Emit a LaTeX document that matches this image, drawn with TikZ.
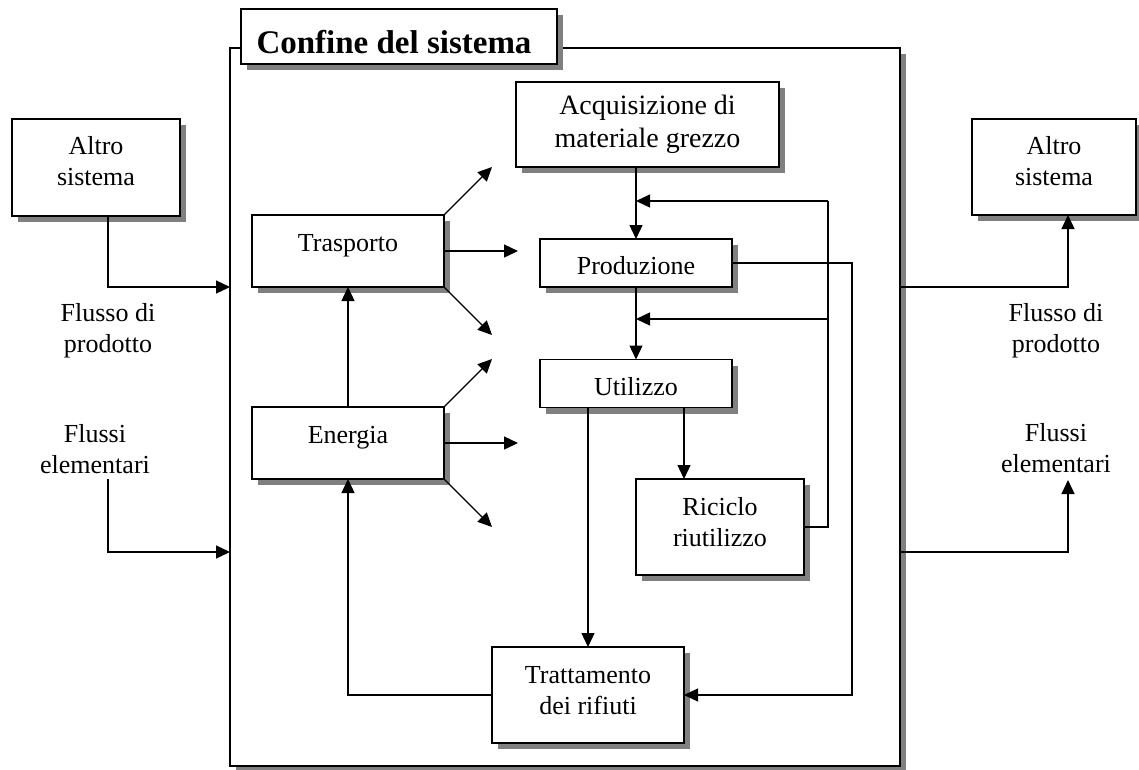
\documentclass[tikz,border=0pt]{standalone}
\usepackage{fontspec}
\setmainfont{Liberation Serif}
\usetikzlibrary{arrows.meta,calc}
\definecolor{shadowgray}{RGB}{128,128,128}
\begin{document}
\begin{tikzpicture}[x=1pt,y=-1pt,
  font=\fontsize{26}{31}\selectfont,
  box/.style={draw, line width=1.5pt, fill=white, outer sep=0pt, inner sep=0pt, align=center,
    preaction={fill=shadowgray, draw=none, transform canvas={shift={(6pt,-6pt)}}}},
  tup/.style={text height=0pt, text depth=#1},
  tdown/.style={text height=#1, text depth=0pt},
  arr/.style={-{Triangle[length=14pt,width=13pt]}, line width=1.3pt},
  ln/.style={line width=1.3pt},
  lbl/.style={align=center, anchor=base, inner sep=0pt}]
\useasboundingbox (0,0) rectangle (1139,769);

% system boundary
\node[box, line width=2pt, minimum width=670pt, minimum height=718pt] (sys) at (565,407) {};
\node[box, minimum width=316pt, minimum height=55pt, tdown=33pt,
      font=\fontsize{33}{38}\selectfont\bfseries] (title) at (399,36.5) {\hspace*{-10pt}Confine del sistema};

% outer boxes
\node[box, minimum width=168pt, minimum height=97pt, tdown=35pt] (alt1) at (96,167.5) {Altro\\sistema};
\node[box, minimum width=164pt, minimum height=96pt, tdown=36pt] (alt2) at (1054,167) {Altro\\sistema};

% inner boxes
\node[box, minimum width=263pt, minimum height=85pt, font=\fontsize{28}{33}\selectfont] (acq) at (647.5,124.5) {Acquisizione di\\materiale grezzo};
\node[box, minimum width=192pt, minimum height=72pt, tup=0pt] (tra) at (348,251) {Trasporto};
\node[box, minimum width=192pt, minimum height=72pt, tup=0pt] (ene) at (348,443) {Energia};
\node[box, minimum width=192pt, minimum height=48pt, tdown=22pt] (pro) at (636,263) {Produzione};
\node[box, minimum width=192pt, minimum height=48pt, tdown=23pt] (uti) at (636,383.5) {Utilizzo};
\node[box, minimum width=168pt, minimum height=96pt, tdown=38pt] (ric) at (720,527) {Riciclo\\riutilizzo};
\node[box, minimum width=192pt, minimum height=96pt, tdown=38pt] (trt) at (588,695) {Trattamento\\dei rifiuti};

% flow labels (base = last line)
\node[lbl] (fp1) at (108,352) {Flusso di\\prodotto};
\node[lbl] (fe1l) at (95,473) {Flussi\\elementari};
\node[lbl] (fp2) at (1056,352) {Flusso di\\prodotto};
\node[lbl] (fe2l) at (1056,472) {Flussi\\elementari};

% coordinates
\coordinate (bl1) at (230,287);
\coordinate (bl2) at (230,552);
\coordinate (fe1) at (108,479);
\coordinate (br1) at (900,287);
\coordinate (br2) at (900,552);
\coordinate (fe2) at (1068,480);
\coordinate (t1) at (492,167);
\coordinate (t2) at (518,251);
\coordinate (t3) at (492,335);
\coordinate (e1) at (492,359);
\coordinate (e2) at (518,443);
\coordinate (e3) at (492,527);
\coordinate (fbtop) at (828,201);
\coordinate (fbmid) at (828,319);
\coordinate (pr) at (852,263);
\coordinate (u2) at ($(uti.south)+(48,0)$);

% outer connectors
\draw[arr] ([xshift=12pt]alt1.south) |- (bl1);
\draw[arr] (fe1) |- (bl2);
\draw[arr] (br1) -| ([xshift=14pt]alt2.south);
\draw[arr] (br2) -| (fe2);

% transport / energy fans
\draw[arr] (tra.north east) -- (t1);
\draw[arr] (tra.east) -- (t2);
\draw[arr] (tra.south east) -- (t3);
\draw[arr] (ene.north east) -- (e1);
\draw[arr] (ene.east) -- (e2);
\draw[arr] (ene.south east) -- (e3);
\draw[arr] (ene.north) -- (tra.south);

% main chain
\draw[arr] (acq.south -| pro.north) -- (pro.north);
\draw[arr] (pro.south) -- (uti.north);
\draw[arr] (uti.south -| trt.north) -- (trt.north);
\draw[arr] (u2) -- (u2 |- ric.north);

% feedback loops
\draw[ln] (ric.east) -| (fbtop);
\draw[arr] (fbtop) -- (fbtop -| pro.north);
\draw[arr] (fbmid) -- (fbmid -| pro.north);
\draw[arr] (pro.east) -- (pr) |- (trt.east);
\draw[arr] (trt.west) -| (ene.south);
\end{tikzpicture}
\end{document}
